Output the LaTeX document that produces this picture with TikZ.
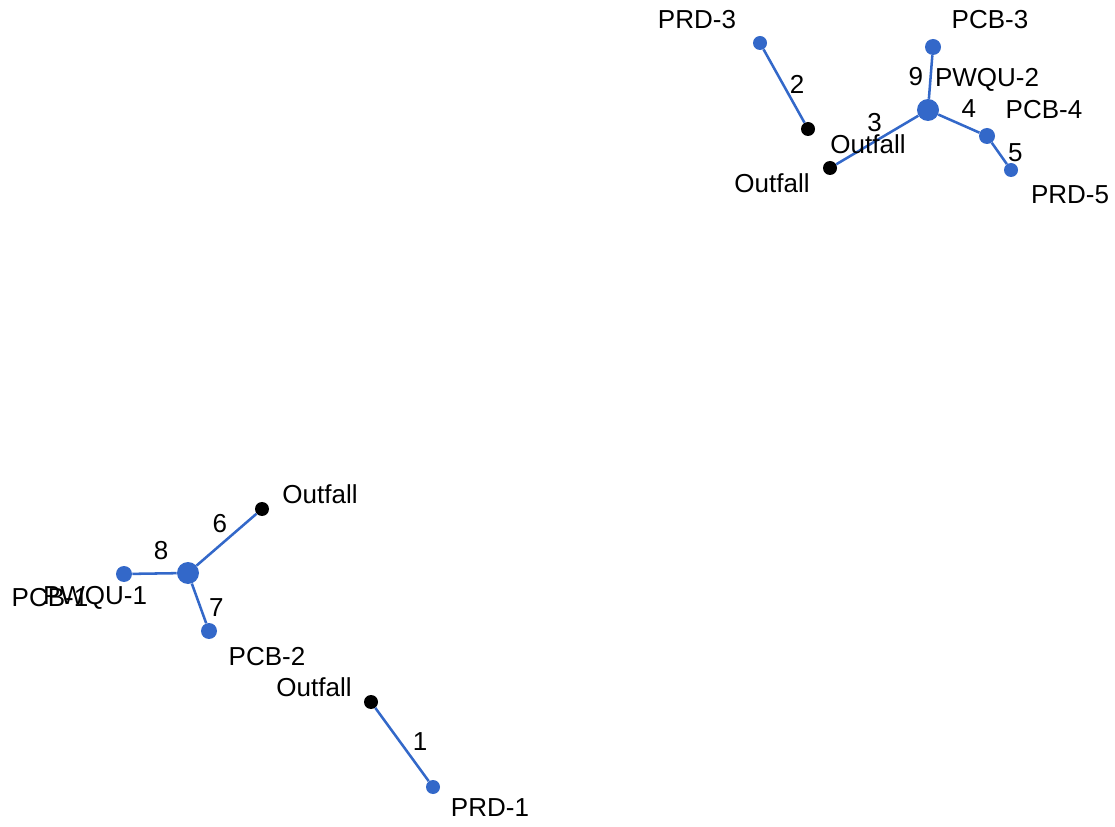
\documentclass[tikz,border=0pt]{standalone}
\usepackage{fontspec}
\setmainfont{Liberation Sans}
\definecolor{netblue}{RGB}{51,104,201}
\tikzset{
  pipe/.style={draw=netblue, line width=1.9pt},
  dot/.style={circle, fill=netblue, inner sep=0pt},
  prd/.style={dot, minimum size=10.5pt},
  pcb/.style={dot, minimum size=12pt},
  pwqu/.style={dot, minimum size=16.5pt},
  outfall/.style={circle, fill=black, inner sep=0pt, minimum size=10.5pt},
  txt/.style={font=\fontsize{19.5}{22}\selectfont, inner sep=0pt},
  num/.style={txt, midway},
}
\begin{document}
\begin{tikzpicture}[x=0.75pt, y=-0.75pt]
    \useasboundingbox (0,0) rectangle (1115,827);
    % upper network
    \node[prd] (prd3) at (760,43) {};
    \node[outfall] (outA) at (808,129) {};
    \node[outfall] (outB) at (830,168) {};
    \node[pwqu] (pwqu2) at (928,110) {};
    \node[pcb] (pcb3) at (933,47) {};
    \node[pcb] (pcb4) at (987,136) {};
    \node[prd] (prd5) at (1011,170) {};

    \draw[pipe] (prd3) -- node[num, xshift=9.75pt, yshift=1.5pt] {2} (outA);
    \draw[pipe] (pwqu2) -- node[num, xshift=-11pt, yshift=0pt] {9} (pcb3);
    \draw[pipe] (pwqu2) -- node[num, xshift=-2pt, yshift=12.75pt] {3} (outB);
    \draw[pipe] (pwqu2) -- node[num, xshift=7.5pt, yshift=11.25pt] {4} (pcb4);
    \draw[pipe] (pcb4) -- node[num, xshift=12pt, yshift=0.75pt] {5} (prd5);

    \node[txt] (prd3lbl) at ([shift={(-63,-23)}]prd3) {PRD-3};
    \node[txt] (outAlbl) at ([shift={(60,15)}]outA) {Outfall};
    \node[txt] (outBlbl) at ([shift={(-58,15)}]outB) {Outfall};
    \node[txt] (pwqu2lbl) at ([shift={(59,-30)}]pwqu2) {PWQU-2};
    \node[txt] (pcb3lbl) at ([shift={(57,-27)}]pcb3) {PCB-3};
    \node[txt] (pcb4lbl) at ([shift={(57,-26)}]pcb4) {PCB-4};
    \node[txt] (prd5lbl) at ([shift={(59,25)}]prd5) {PRD-5};

    % lower network
    \node[outfall] (outC) at (262,509) {};
    \node[pwqu] (pwqu1) at (188,573) {};
    \node[pcb] (pcb1) at (124,574) {};
    \node[pcb] (pcb2) at (209,631) {};
    \node[outfall] (outD) at (371,702) {};
    \node[prd] (prd1) at (433,787) {};

    \draw[pipe] (pwqu1) -- node[num, xshift=-5pt, yshift=12pt] {6} (outC);
    \draw[pipe] (pwqu1) -- node[num, xshift=5pt, yshift=17pt] {8} (pcb1);
    \draw[pipe] (pwqu1) -- node[num, xshift=13pt, yshift=-3pt] {7} (pcb2);
    \draw[pipe] (outD) -- node[num, xshift=13.5pt, yshift=2.5pt] {1} (prd1);

    \node[txt] (outClbl) at ([shift={(58,-15)}]outC) {Outfall};
    \node[txt] (pwqu1lbl) at ([shift={(-93,25)}]pwqu1) {PWQU-1};
    \node[txt] (pcb1lbl) at ([shift={(-74,24)}]pcb1) {PCB-1};
    \node[txt] (pcb2lbl) at ([shift={(58,26)}]pcb2) {PCB-2};
    \node[txt] (outDlbl) at ([shift={(-57,-15)}]outD) {Outfall};
    \node[txt] (prd1lbl) at ([shift={(57,21)}]prd1) {PRD-1};
\end{tikzpicture}
\end{document}
